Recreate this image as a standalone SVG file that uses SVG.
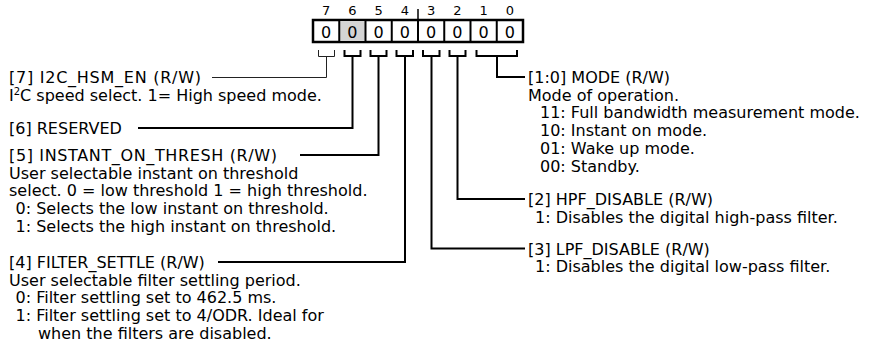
<svg xmlns="http://www.w3.org/2000/svg" width="878" height="347" viewBox="0 0 878 347">
<style>
text{font-family:"DejaVu Sans","Liberation Sans",sans-serif;fill:#000}
.t{font-size:16px}
.bn{font-size:13px;text-anchor:middle}
.v{font-size:16px;text-anchor:middle}
.cell{fill:#fff;stroke:#000;stroke-width:2.5}
.div{stroke:#000;stroke-width:2}
.c{fill:none;stroke:#000;stroke-width:2;stroke-linejoin:miter}
.thin{fill:none;stroke:#222;stroke-width:1}
</style>
<rect width="878" height="347" fill="#fff"/>
<g id="register">
  <rect class="cell" x="313" y="20" width="210" height="22"/>
  <rect x="339.25" y="21" width="26.25" height="20" fill="#d4d4d4"/>
  <line class="div" x1="339.25" y1="20" x2="339.25" y2="42"/>
  <line class="div" x1="365.5" y1="20" x2="365.5" y2="42"/>
  <line class="div" x1="391.75" y1="20" x2="391.75" y2="42"/>
  <line class="div" x1="418" y1="20" x2="418" y2="42"/>
  <line class="div" x1="444.25" y1="20" x2="444.25" y2="42"/>
  <line class="div" x1="470.5" y1="20" x2="470.5" y2="42"/>
  <line class="div" x1="496.75" y1="20" x2="496.75" y2="42"/>
  <line stroke="#000" stroke-width="1.5" x1="418" y1="9" x2="418" y2="20"/>
  <text class="bn" x="326.1" y="15">7</text>
  <text class="bn" x="352.4" y="15">6</text>
  <text class="bn" x="378.6" y="15">5</text>
  <text class="bn" x="404.9" y="15">4</text>
  <text class="bn" x="431.1" y="15">3</text>
  <text class="bn" x="457.4" y="15">2</text>
  <text class="bn" x="483.6" y="15">1</text>
  <text class="bn" x="509.9" y="15">0</text>
  <text class="v" x="326.1" y="37.5">0</text>
  <text class="v" x="352.4" y="37.5">0</text>
  <text class="v" x="378.6" y="37.5">0</text>
  <text class="v" x="404.9" y="37.5">0</text>
  <text class="v" x="431.1" y="37.5">0</text>
  <text class="v" x="457.4" y="37.5">0</text>
  <text class="v" x="483.6" y="37.5">0</text>
  <text class="v" x="509.9" y="37.5">0</text>
</g>
<g id="connectors">
  <path class="thin" d="M318.5,50 V56.5 H334.5 V50 M326.5,56.5 V77.5 H212"/>
  <path class="c" d="M344.5,50 V56 H360.5 V50 M352.5,56 V128 H138"/>
  <path class="c" d="M370.5,50 V56 H386.5 V50 M378.5,56 V155 H300"/>
  <path class="c" d="M396.5,50 V56 H413 V50 M405,56 V262 H218"/>
  <path class="c" d="M423,50 V56 H439.5 V50 M431.5,56 V248.5 H525"/>
  <path class="c" d="M449.5,50 V56 H465.5 V50 M457.5,56 V199 H525"/>
  <path class="c" d="M476.5,50 V56 H517 V50 M497,56 V77 H525"/>
</g>
<g id="field7">
  <text class="t" x="9" y="83" textLength="192" lengthAdjust="spacing">[7] I2C_HSM_EN (R/W)</text>
  <text class="t" x="9" y="100.5">I<tspan font-size="10" dy="-6">2</tspan><tspan dy="6">C speed select. 1= High speed mode.</tspan></text>
</g>
<g id="field6">
  <text class="t" x="9" y="134">[6] RESERVED</text>
</g>
<g id="field5">
  <text class="t" x="9" y="161" textLength="268" lengthAdjust="spacing">[5] INSTANT_ON_THRESH (R/W)</text>
  <text class="t" x="9" y="178.7">User selectable instant on threshold</text>
  <text class="t" x="9" y="196.4">select. 0 = low threshold 1 = high threshold.</text>
  <text class="t" x="15.5" y="214.1">0: Selects the low instant on threshold.</text>
  <text class="t" x="15.5" y="231.8">1: Selects the high instant on threshold.</text>
</g>
<g id="field4">
  <text class="t" x="9" y="268">[4] FILTER_SETTLE (R/W)</text>
  <text class="t" x="9" y="285.7">User selectable filter settling period.</text>
  <text class="t" x="15.5" y="303.4">0: Filter settling set to 462.5 ms.</text>
  <text class="t" x="15.5" y="321.1">1: Filter settling set to 4/ODR. Ideal for</text>
  <text class="t" x="38" y="338.8">when the filters are disabled.</text>
</g>
<g id="field10">
  <text class="t" x="528" y="83">[1:0] MODE (R/W)</text>
  <text class="t" x="528" y="100.7">Mode of operation.</text>
  <text class="t" x="540" y="118.4">11: Full bandwidth measurement mode.</text>
  <text class="t" x="540" y="136.1">10: Instant on mode.</text>
  <text class="t" x="540" y="153.8">01: Wake up mode.</text>
  <text class="t" x="540" y="171.5">00: Standby.</text>
</g>
<g id="field2">
  <text class="t" x="528" y="205">[2] HPF_DISABLE (R/W)</text>
  <text class="t" x="535" y="222.7">1: Disables the digital high-pass filter.</text>
</g>
<g id="field3">
  <text class="t" x="528" y="254.5">[3] LPF_DISABLE (R/W)</text>
  <text class="t" x="535" y="272.2">1: Disables the digital low-pass filter.</text>
</g>
</svg>
